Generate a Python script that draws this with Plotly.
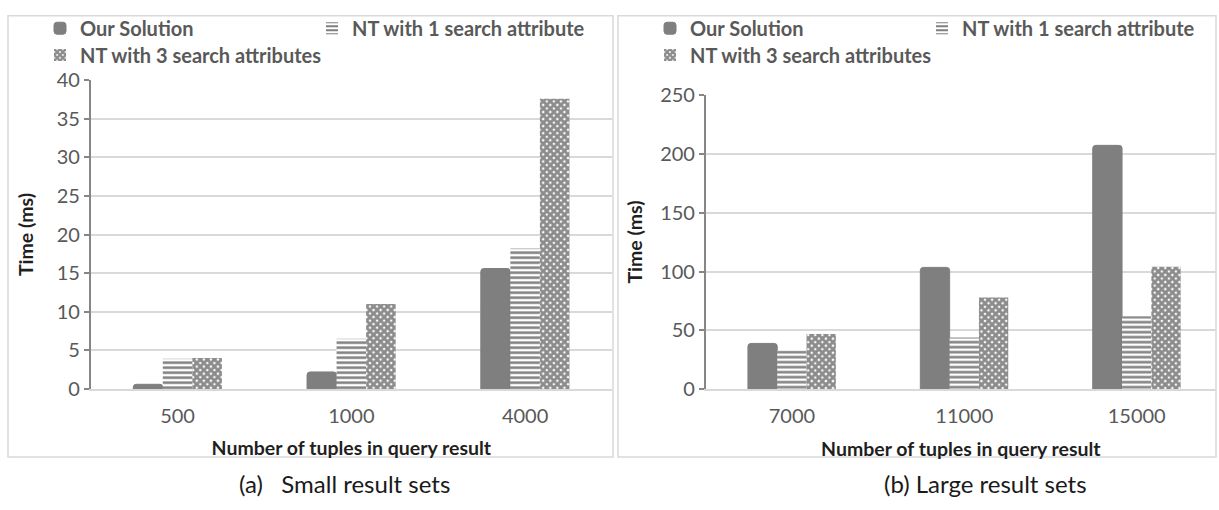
import plotly.graph_objects as go

# ---- data -------------------------------------------------------------
series_names = ["Our Solution", "NT with 1 search attribute", "NT with 3 search attributes"]

small_categories = ["500", "1000", "4000"]
small_our = [0.6, 2.2, 15.6]
small_nt1 = [3.9, 6.5, 18.2]
small_nt3 = [4.0, 11.0, 37.6]
small_ticks = [0, 5, 10, 15, 20, 25, 30, 35, 40]

large_categories = ["7000", "11000", "15000"]
large_our = [39, 103.5, 207]
large_nt1 = [33, 44, 62]
large_nt3 = [47, 78, 104]
large_ticks = [0, 50, 100, 150, 200, 250]

x_title = "Number of tuples in query result"
y_title = "Time (ms)"
captions = ["(a)\u00a0\u00a0 Small result sets", "(b) Large result sets"]

# ---- styling ----------------------------------------------------------
W, H = 1219, 510
FONT = "Lato, Open Sans, sans-serif"
GRAY_TEXT = "#595959"
GRID = "#d9d9d9"
SOLID = "#7f7f7f"


def px_x(v):
    return v / W


def px_y(v):
    return 1 - v / H


styles = [
    dict(color=SOLID, cornerradius=3, line=dict(color=SOLID, width=1)),
    dict(color="white", line=dict(width=0),
         pattern=dict(shape="-", fgcolor="#000000", bgcolor="white",
                      size=5, solidity=0.5, fillmode="overlay")),
    dict(color="white", line=dict(width=0),
         pattern=dict(shape="x", fgcolor="#1a1a1a", bgcolor="white",
                      size=5, solidity=0.82, fillmode="overlay")),
]

fig = go.Figure()

panels = [
    dict(cats=small_categories, vals=[small_our, small_nt1, small_nt3], xa="x", ya="y",
         legends=["legend", "legend2", "legend3"]),
    dict(cats=large_categories, vals=[large_our, large_nt1, large_nt3], xa="x2", ya="y2",
         legends=["legend4", "legend5", "legend6"]),
]

for p in panels:
    for name, vals, st, lg in zip(series_names, p["vals"], styles, p["legends"]):
        fig.add_trace(go.Bar(
            x=p["cats"], y=vals, name=name, marker=st, showlegend=True,
            xaxis=p["xa"], yaxis=p["ya"], legend=lg,
        ))

axis_common_x = dict(
    type="category", showline=True, linecolor=GRID, linewidth=1.5,
    showgrid=False, ticks="", zeroline=False,
    tickfont=dict(family=FONT, size=20, color=GRAY_TEXT),
    ticklabelstandoff=8,
    title=dict(text=x_title, font=dict(family=FONT, size=19.5, color="#1f1f1f", weight="bold"),
               standoff=16),
)


def y_axis(standoff):
    return dict(
        showline=True, linecolor="#868686", linewidth=1.5,
        ticks="outside", ticklen=5, tickcolor="#868686", tickwidth=1.5,
        showgrid=True, gridcolor=GRID, gridwidth=1.5, zeroline=False,
        tickfont=dict(family=FONT, size=20, color=GRAY_TEXT),
        title=dict(text=y_title, font=dict(family=FONT, size=19.5, color="#1f1f1f", weight="bold"),
                   standoff=standoff),
    )


fig.update_layout(
    width=W, height=H,
    margin=dict(l=0, r=0, t=0, b=0),
    paper_bgcolor="white", plot_bgcolor="white",
    showlegend=True,
    barmode="group", bargap=0.49, bargroupgap=0,
    font=dict(family=FONT, color=GRAY_TEXT),
    xaxis=dict(axis_common_x, domain=[px_x(90.7), px_x(612)], anchor="y"),
    yaxis=dict(y_axis(18), domain=[px_y(394.5), px_y(70.5)], anchor="x",
               range=[0, 40], tickvals=small_ticks),
    xaxis2=dict(axis_common_x, domain=[px_x(705.7), px_x(1216)], anchor="y2",
                range=[-0.5, 2.46]),
    yaxis2=dict(y_axis(12), domain=[px_y(395), px_y(85.7)], anchor="x2",
                range=[0, 250], tickvals=large_ticks),
)

# one legend per entry so each can sit where it belongs
legend_font = dict(family=FONT, size=20, color=GRAY_TEXT, weight="bold")
legend_pos = {
    "legend": (40, 16), "legend2": (312, 16), "legend3": (40, 44),
    "legend4": (650, 16), "legend5": (922, 16), "legend6": (650, 44),
}
for key, (lx, ly) in legend_pos.items():
    fig.update_layout({key: dict(
        x=px_x(lx), y=px_y(ly), xanchor="left", yanchor="middle",
        orientation="h", font=legend_font, bgcolor="rgba(0,0,0,0)",
        borderwidth=0, itemclick=False, itemdoubleclick=False, visible=True,
    )})

# panel frames
for x0, x1 in [(8, 613), (618, 1216)]:
    fig.add_shape(type="rect", xref="paper", yref="paper",
                  x0=px_x(x0), x1=px_x(x1), y0=px_y(466), y1=px_y(3),
                  line=dict(color=GRID, width=1.5), fillcolor="rgba(0,0,0,0)", layer="below")

# captions under each panel
for text, cx in zip(captions, [344, 985]):
    fig.add_annotation(text=text, xref="paper", yref="paper",
                       x=px_x(cx), y=px_y(494), xanchor="center", yanchor="middle",
                       showarrow=False, font=dict(family=FONT, size=24, color="#1a1a1a"))

fig.write_html("out.html")
